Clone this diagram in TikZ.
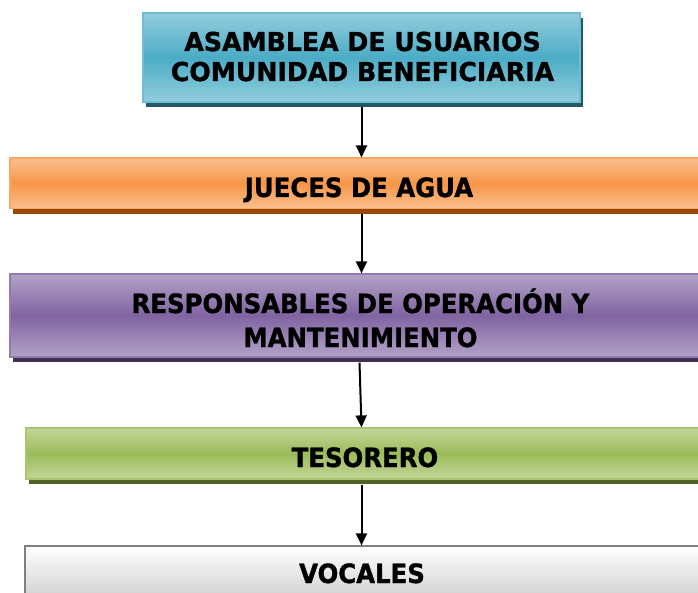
\documentclass[tikz,border=0pt]{standalone}
\usepackage{fontspec}
\setmainfont{DejaVu Sans}
\newfontfamily\topfont{DejaVu Sans}[FakeStretch=0.97,FakeBold=1.2]
\newfontfamily\condfont{DejaVu Sans}[FakeStretch=0.92,FakeBold=1.2]
\usetikzlibrary{arrows.meta,shadows}
\definecolor{tealL}{HTML}{93CDDD}\definecolor{tealM}{HTML}{4BACC6}\definecolor{tealS}{HTML}{215968}
\definecolor{oraL}{HTML}{FAC090}\definecolor{oraM}{HTML}{F79646}\definecolor{oraS}{HTML}{984807}
\definecolor{purL}{HTML}{B3A2C7}\definecolor{purM}{HTML}{8064A2}\definecolor{purS}{HTML}{3F3151}
\definecolor{grnL}{HTML}{C3D69B}\definecolor{grnM}{HTML}{9BBB59}\definecolor{grnS}{HTML}{4F6228}
\definecolor{gryB}{HTML}{7F7F7F}\definecolor{gryM}{HTML}{C8C8C8}
\tikzset{
  box/.style={rectangle, inner sep=0pt, line width=1.2pt},
  toptxt/.style={anchor=base, inner sep=0pt, font=\topfont\bfseries\fontsize{26}{30}\selectfont},
  lowtxt/.style={anchor=base, inner sep=0pt, font=\condfont\bfseries\fontsize{26.5}{34}\selectfont},
  arr/.style={line width=2pt, -{Triangle[width=11pt,length=12pt]}},
  sh/.style={general shadow={fill=#1, shadow xshift=3pt, shadow yshift=-5pt}}
}
\begin{document}
\begin{tikzpicture}[x=1pt,y=1pt]
\useasboundingbox (0,0) rectangle (698,-593);
\clip (0,0) rectangle (698,-593);
% boxes
\node[box, sh=tealS, draw=tealM!80!white, top color=tealL, bottom color=tealL, middle color=tealM,
  minimum width=437pt, minimum height=89pt] (asam) at (361.5,-57.5) {};
\node[box, sh=oraS, draw=oraM!85!white, top color=oraL, bottom color=oraL, middle color=oraM,
  minimum width=700pt, minimum height=50.5pt] (jue) at (360,-183.3) {};
\node[box, sh=purS, draw=purM!85!white, top color=purL, bottom color=purL, middle color=purM,
  minimum width=700pt, minimum height=83pt] (resp) at (360,-315.5) {};
\node[box, sh=grnS, draw=grnM!85!white, top color=grnL, bottom color=grnL, middle color=grnM,
  minimum width=680pt, minimum height=51pt] (tes) at (366,-453.5) {};
\node[box, draw=gryB, top color=white, bottom color=gryM,
  minimum width=680pt, minimum height=62pt] (voc) at (365,-577) {};
% texts
\node[toptxt] (tasam) at (362.5,-51) {\begin{tabular}[t]{@{}c@{}}ASAMBLEA DE USUARIOS\\COMUNIDAD BENEFICIARIA\end{tabular}};
\node[lowtxt] (tjue) at (359,-197) {JUECES DE AGUA};
\node[lowtxt] (tresp) at (360.5,-313) {\begin{tabular}[t]{@{}c@{}}RESPONSABLES DE OPERACIÓN Y\\MANTENIMIENTO\end{tabular}};
\node[lowtxt] (ttes) at (365,-467) {TESORERO};
\node[lowtxt] (tvoc) at (362,-583) {VOCALES};
% connectors
\draw[arr] ([yshift=-4pt]asam.south) -- (jue.north -| asam.south);
\draw[arr] ([yshift=-5pt]jue.south -| asam.south) -- (resp.north -| asam.south);
\draw[arr] ([xshift=-2pt,yshift=-5pt]resp.south -| asam.south) -- (tes.north -| asam.south);
\draw[arr] ([yshift=-5pt]tes.south -| asam.south) -- (voc.north -| asam.south);
\end{tikzpicture}
\end{document}
